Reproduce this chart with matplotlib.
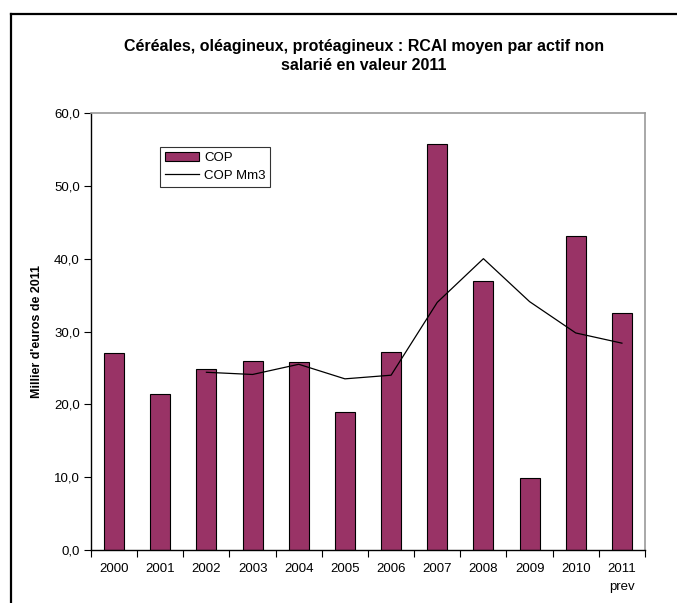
import matplotlib
matplotlib.use("Agg")
import matplotlib.pyplot as plt
from matplotlib.ticker import FixedLocator, FuncFormatter
from matplotlib.lines import Line2D

plt.rcParams['font.family'] = ['Liberation Sans', 'DejaVu Sans']

years = ["2000", "2001", "2002", "2003", "2004", "2005", "2006", "2007", "2008", "2009", "2010", "2011\nprev"]
cop = [27.0, 21.4, 24.9, 26.0, 25.8, 19.0, 27.2, 55.7, 36.9, 9.85, 43.1, 32.5]
cop_mm3 = [None, None, 24.4, 24.1, 25.5, 23.5, 24.0, 34.0, 40.0, 34.1, 29.8, 28.4]

title = "Céréales, oléagineux, protéagineux : RCAI moyen par actif non\nsalarié en valeur 2011"
ylabel = "Millier d'euros de 2011"

W, H = 677, 603
fig = plt.figure(figsize=(W / 100, H / 100), dpi=100)
ax = fig.add_axes([91 / W, 53 / H, (645 - 91) / W, (550 - 113) / H])

x = list(range(len(years)))
bars = ax.bar(x, cop, width=0.43, color="#993366", edgecolor="black", linewidth=0.8, label="COP", zorder=2)
mx = [i for i, v in zip(x, cop_mm3) if v is not None]
my = [v for v in cop_mm3 if v is not None]
line, = ax.plot(mx, my, color="black", linewidth=0.9, label="COP Mm3", zorder=3)

ax.set_xlim(-0.5, len(years) - 0.5)
ax.set_ylim(0, 60)
ax.set_yticks([0, 10, 20, 30, 40, 50, 60])
ax.yaxis.set_major_formatter(FuncFormatter(lambda v, p: f"{v:.1f}".replace(".", ",")))
ax.tick_params(axis="y", direction="out", length=5, width=0.8, labelsize=9.5, pad=3)

ax.set_xticks(x)
ax.set_xticklabels(years, fontsize=9.5, linespacing=1.75, va="top")
ax.tick_params(axis="x", which="major", length=0, pad=9)
ax.xaxis.set_minor_locator(FixedLocator([i - 0.5 for i in range(len(years) + 1)]))
ax.tick_params(axis="x", which="minor", direction="out", length=5, width=0.8)

for s in ["left", "bottom"]:
    ax.spines[s].set_color("black")
    ax.spines[s].set_linewidth(1.0)
for s in ["top", "right"]:
    ax.spines[s].set_color("#9a9a9a")
    ax.spines[s].set_linewidth(1.2)

ax.set_ylabel(ylabel, fontsize=9, fontweight="bold", labelpad=8)

fig.text(364 / W, 1 - 56 / H, title, ha="center", va="center", fontsize=11.5, fontweight="bold",
         linespacing=1.3)

leg = ax.legend([bars, line], ["COP", "COP Mm3"], loc="upper left",
                bbox_to_anchor=((160 - 91) / (645 - 91), 1 - (147 - 113) / (550 - 113)),
                frameon=True, fancybox=False, edgecolor="black", fontsize=9.5,
                handlelength=2.6, handleheight=0.7, borderpad=0.35, labelspacing=0.45,
                handletextpad=0.4, borderaxespad=0)
leg.get_frame().set_linewidth(0.8)

# outer chart frame
fig.add_artist(Line2D([11 / W, 1], [1 - 14 / H, 1 - 14 / H], color="black", linewidth=1.6, transform=fig.transFigure))
fig.add_artist(Line2D([11 / W, 11 / W], [0, 1 - 14 / H], color="black", linewidth=1.6, transform=fig.transFigure))

fig.savefig("out.png", dpi=100)
